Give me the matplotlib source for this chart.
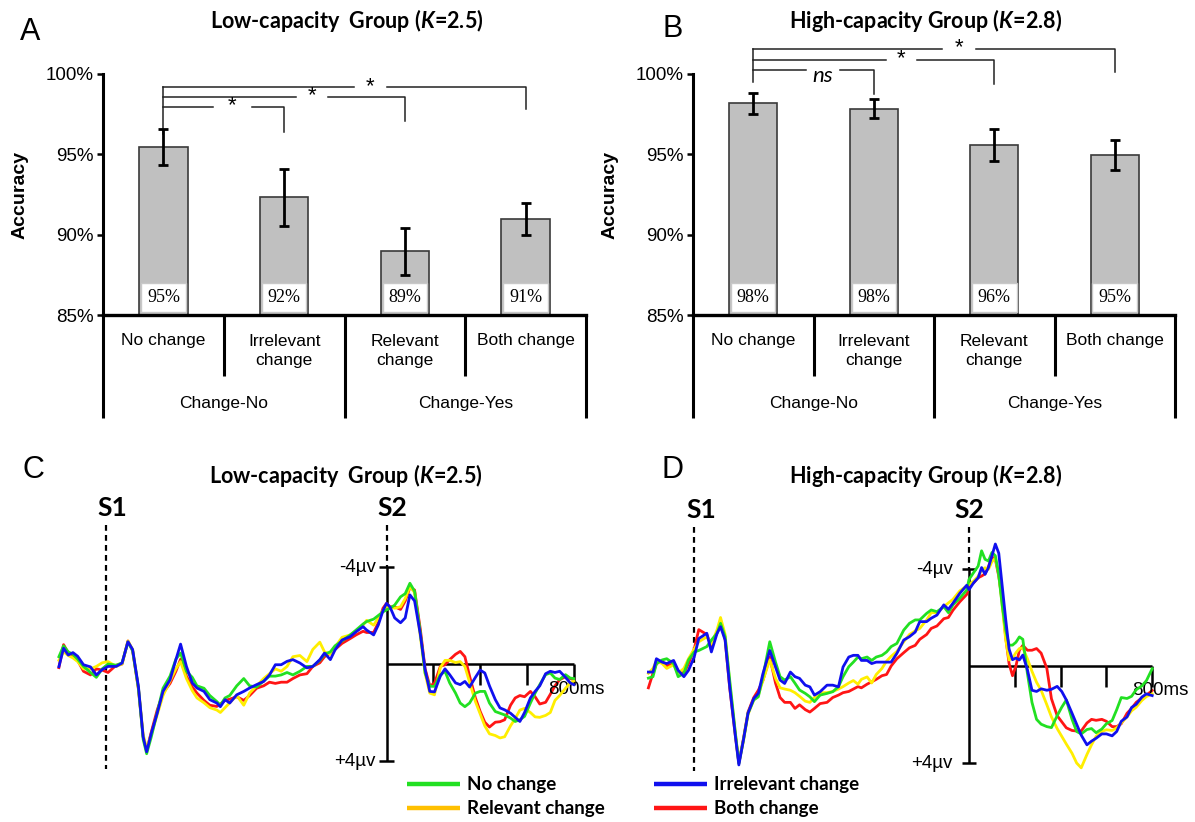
import numpy as np
import matplotlib.pyplot as plt

plt.rcParams['font.family'] = ['Liberation Sans', 'DejaVu Sans']
plt.rcParams['mathtext.fontset'] = 'custom'
plt.rcParams['mathtext.it'] = 'Lato:italic:bold'
plt.rcParams['mathtext.rm'] = 'Lato:bold'
plt.rcParams['mathtext.bf'] = 'Lato:bold'

# ---- accuracy data (panels A, B) ----
conditions = ['No change', 'Irrelevant\nchange', 'Relevant\nchange', 'Both change']
groups = ['Change-No', 'Change-Yes']
low_acc = [95.45, 92.33, 88.96, 90.98]
low_err = [1.13, 1.77, 1.48, 0.99]
low_labels = ['95%', '92%', '89%', '91%']
high_acc = [98.17, 97.85, 95.56, 94.96]
high_err = [0.65, 0.60, 1.00, 0.95]
high_labels = ['98%', '98%', '96%', '95%']
low_signif = ['*', '*', '*']
high_signif = ['ns', '*', '*']

# ---- ERP data (panels C, D), time in ms, amplitude in microvolts ----
low_time = [-1400, -1380, -1360, -1340, -1320, -1295, -1265, -1240, -1215, -1190,
            -1155, -1130, -1105, -1085, -1060, -1040, -1025, -1005, -980, -955,
            -925, -900, -880, -855, -830, -810, -780, -755, -725, -710,
            -690, -670, -640, -610, -585, -555, -525, -500, -475, -450,
            -425, -400, -370, -340, -315, -285, -265, -240, -220, -190,
            -155, -130, -100, -85, -55, -35, -15,
            0, 15, 35, 60, 80, 100, 120, 145, 165, 185,
            205, 230, 250, 270, 295, 315, 335, 355, 380, 400,
            420, 440, 465, 485, 505, 530, 550, 570, 590, 615,
            635, 655, 680, 700, 720, 740, 765, 785, 800]
low_irrelevant = [0.11, -0.65, -0.37, -0.47, -0.32, 0.03, 0.12, 0.45, 0.23, 0.1,
                  0.1, -0.04, -0.92, -0.6, 0.94, 3.0, 3.62, 2.85, 2.03, 1.13,
                  0.65, -0.18, -0.82, 0.1, 0.78, 0.99, 1.13, 1.47, 1.61, 1.76,
                  1.47, 1.61, 1.27, 1.13, 0.99, 0.85, 0.72, 0.45, 0.03, 0.03,
                  -0.11, -0.18, -0.04, 0.16, 0.1, -0.18, -0.45, -0.18, -0.58, -0.99,
                  -1.13, -1.33, -1.54, -1.4, -1.2, -1.61, -2.2,
                  -2.5, -2.35, -1.9, -1.7, -1.9, -2.85, -2.6, -1.2, 0.23, 1.13,
                  1.15, 0.5, 0.2, 0.44, 0.78, 0.85, 0.72, 0.95, 0.55, 0.25,
                  0.37, 0.9, 1.47, 1.81, 1.89, 2.03, 2.2, 2.37, 2.0, 1.4,
                  1.13, 0.9, 0.4, 0.3, 0.35, 0.3, 0.55, 0.78, 0.85]
low_nochange = [-0.3, -0.75, -0.5, -0.4, -0.2, 0.1, 0.35, 0.55, 0.2, 0.0,
                0.05, -0.05, -0.9, -0.55, 1.0, 3.1, 3.7, 3.0, 2.0, 1.0,
                0.5, -0.2, -0.45, 0.3, 0.55, 0.9, 1.0, 1.3, 1.55, 1.7,
                1.4, 1.3, 0.9, 0.6, 0.9, 0.95, 0.7, 0.5, 0.5, 0.45,
                0.35, 0.45, 0.3, 0.1, 0.1, -0.15, -0.4, -0.5, -0.75, -0.95,
                -1.2, -1.4, -1.65, -1.75, -1.85, -2.0, -2.15,
                -2.23, -2.3, -2.43, -2.77, -2.9, -3.33, -3.0, -1.26, 0.37, 0.92,
                0.92, 0.45, 0.3, 0.78, 1.2, 1.61, 1.76, 1.61, 1.2, 1.13,
                1.13, 1.61, 1.96, 2.03, 2.1, 2.23, 2.37, 2.3, 2.16, 1.61,
                1.2, 0.85, 0.44, 0.37, 0.58, 0.64, 0.44, 0.58, 0.6]
low_relevant = [-0.15, -0.5, -0.35, -0.25, -0.1, 0.2, 0.2, 0.1, -0.05, -0.1,
                0.1, 0.0, -0.95, -0.6, 1.0, 2.9, 3.5, 2.9, 2.1, 1.3,
                0.7, 0.2, -0.1, 0.6, 1.1, 1.4, 1.6, 1.8, 1.9, 2.0,
                1.8, 1.6, 1.3, 1.7, 1.2, 0.9, 0.6, 0.4, 0.2, 0.3,
                0.1, -0.3, -0.35, -0.1, -0.6, -0.9, -0.5, -0.4, -0.7, -1.1,
                -1.2, -1.35, -1.6, -1.8, -1.6, -1.9, -2.2,
                -2.36, -2.36, -2.3, -2.36, -2.7, -3.19, -2.95, -1.1, 0.4, 1.2,
                1.27, 0.15, -0.15, -0.15, -0.06, -0.1, 0.1, 0.75, 1.55, 2.05,
                2.55, 2.88, 2.95, 3.05, 3.0, 2.55, 2.25, 1.9, 1.83, 2.0,
                2.18, 2.2, 2.12, 2.0, 1.5, 1.3, 1.0, 0.78, 0.7]
low_both = [0.15, -0.8, -0.45, -0.35, -0.15, 0.3, 0.45, 0.2, 0.25, 0.35,
            0.05, 0.0, -0.95, -0.55, 1.05, 3.0, 3.55, 2.8, 1.9, 1.2,
            0.8, 0.3, -0.2, 0.5, 0.95, 1.2, 1.5, 1.7, 1.75, 1.65,
            1.5, 1.45, 1.35, 1.5, 1.3, 1.0, 0.9, 0.75, 0.8, 0.75,
            0.75, 0.6, 0.45, 0.4, 0.1, -0.05, -0.3, -0.45, -0.6, -0.85,
            -1.05, -1.2, -1.35, -1.3, -1.3, -1.7, -2.3,
            -2.5, -2.36, -2.36, -2.25, -2.6, -3.15, -3.05, -1.4, 0.2, 0.9,
            0.8, 0.1, 0.03, -0.18, -0.4, -0.52, -0.3, 0.5, 1.4, 1.95,
            2.4, 2.6, 2.4, 2.38, 2.3, 1.7, 1.4, 1.3, 1.35, 1.13,
            1.35, 1.65, 1.58, 1.25, 0.9, 0.65, 0.52, 0.6, 0.64]

high_time = [-1400, -1380, -1365, -1340, -1320, -1290, -1270, -1245, -1225, -1200,
             -1180, -1145, -1125, -1100, -1085, -1065, -1045, -1020, -1005, -985,
             -965, -940, -920, -900, -870, -845, -825, -805, -780, -760,
             -740, -715, -695, -675, -650, -620, -595, -570, -550, -525,
             -505, -485, -470, -445, -425, -405, -380, -360, -340, -315,
             -285, -260, -235, -215, -185, -165, -140, -110, -90, -70,
             -40, -10,
             0, 20, 40, 55, 70, 85, 100, 115, 130, 145,
             160, 175, 190, 205, 220, 235, 255, 275, 295, 315,
             340, 360, 385, 405, 425, 450, 470, 490, 515, 535,
             555, 580, 600, 625, 645, 665, 690, 710, 730, 755,
             775, 800]
high_irrelevant = [0.25, 0.25, -0.3, -0.16, -0.1, -0.23, 0.18, 0.44, 0.18, -0.37,
                   -1.13, -1.35, -0.58, -1.35, -1.62, -1.07, 0.86, 2.91, 4.08, 3.05,
                   1.95, 1.34, 1.13, 0.32, -0.64, 0.04, 0.58, 0.72, 0.25, 0.44,
                   0.51, 0.79, 0.86, 1.2, 1.06, 0.79, 0.79, 0.86, 0.04, -0.37,
                   -0.44, -0.44, -0.23, -0.23, -0.1, -0.16, -0.16, -0.16, -0.16, -0.52,
                   -1.07, -1.21, -1.4, -1.83, -1.83, -1.97, -2.1, -2.52, -2.34, -2.59,
                   -3.0, -3.33,
                   -3.15, -3.43, -3.64, -4.06, -3.78, -4.06, -4.54, -5.03, -4.65, -3.3,
                   -1.95, -0.7, -0.26, -0.33, -0.25, -0.45, 0.15, 1.0, 1.05, 0.94,
                   1.0, 0.96, 0.84, 1.05, 1.4, 1.95, 2.4, 2.85, 3.25, 3.1,
                   2.98, 2.8, 2.8, 2.88, 2.7, 2.28, 2.1, 1.71, 1.58, 1.28,
                   1.15, 1.22]
high_nochange = [0.5, 0.44, -0.1, -0.25, -0.3, -0.1, 0.44, 0.3, -0.25, -0.58,
                 -0.64, -0.8, -1.07, -1.35, -1.76, -1.21, 0.58, 2.78, 4.02, 3.05,
                 1.95, 1.4, 1.27, 0.44, -1.0, -0.16, 0.44, 0.58, 0.44, 0.71,
                 0.99, 1.13, 1.27, 1.47, 1.2, 1.13, 1.06, 0.85, 0.44, 0.03,
                 -0.16, -0.37, -0.3, -0.37, -0.23, -0.37, -0.44, -0.58, -0.8, -0.93,
                 -1.48, -1.76, -1.9, -1.9, -2.17, -2.31, -2.24, -2.45, -2.2, -2.52,
                 -2.8, -3.13,
                 -3.57, -3.85, -4.12, -4.75, -4.4, -4.33, -4.68, -4.55, -3.75, -2.5,
                 -1.5, -0.86, -0.86, -0.98, -1.2, -1.1, 0.3, 1.5, 2.2, 2.4,
                 2.5, 2.54, 2.05, 1.7, 1.4, 2.2, 2.7, 2.8, 2.62, 2.58,
                 2.75, 2.6, 2.38, 2.25, 1.8, 1.3, 1.34, 1.25, 0.98, 0.82,
                 0.6, 0.11]
high_relevant = [0.3, 0.1, -0.2, -0.1, 0.1, -0.05, 0.3, 0.1, -0.3, -0.7,
                 -1.0, -1.2, -0.9, -1.5, -2.0, -1.3, 0.7, 2.8, 4.0, 3.1,
                 2.0, 1.4, 1.2, 0.6, -0.25, 0.5, 0.9, 0.95, 1.0, 1.1,
                 1.25, 1.45, 1.5, 1.3, 1.1, 1.1, 1.05, 0.95, 0.85, 0.7,
                 0.6, 0.75, 0.55, 0.45, 0.7, 0.35, 0.1, -0.2, -0.4, -0.6,
                 -1.0, -1.3, -1.45, -1.55, -1.9, -2.2, -2.2, -2.45, -2.6, -2.75,
                 -3.1, -3.3,
                 -3.36, -3.5, -3.7, -3.95, -4.05, -3.99, -4.3, -4.45, -3.8, -2.5,
                 -1.1, -0.25, -0.32, -0.55, -0.72, -0.75, -0.3, 0.22, 0.67, 1.0,
                 1.6, 2.1, 2.58, 2.9, 3.22, 3.6, 4.0, 4.2, 3.65, 3.25,
                 2.9, 2.7, 2.63, 2.66, 2.55, 2.35, 2.1, 1.85, 1.7, 1.42,
                 1.26, 1.15]
high_both = [0.9, 0.3, -0.1, -0.2, 0.0, -0.1, 0.2, 0.3, -0.1, -0.7,
             -1.5, -1.3, -0.8, -1.4, -1.8, -1.1, 0.9, 2.9, 4.0, 3.0,
             1.9, 1.3, 1.0, 0.6, -0.37, 0.7, 1.3, 1.5, 1.5, 1.75,
             1.6, 1.8, 1.9, 1.75, 1.55, 1.5, 1.3, 1.2, 1.1, 1.05,
             0.95, 0.85, 0.9, 0.75, 0.65, 0.55, 0.4, 0.35, 0.0, -0.3,
             -0.55, -0.75, -0.85, -1.1, -1.3, -1.55, -1.65, -1.95, -2.0, -2.3,
             -2.65, -2.95,
             -3.29, -3.43, -3.64, -3.71, -3.8, -4.1, -4.5, -4.4, -3.7, -2.7,
             -1.2, -0.1, 0.4, 0.0, -0.65, -0.85, -0.65, -0.65, -0.72, -0.53,
             0.1, 1.35, 2.05, 2.3, 2.55, 2.66, 2.68, 2.68, 2.35, 2.2,
             2.24, 2.2, 2.28, 2.5, 2.5, 2.38, 1.95, 1.75, 1.5, 1.32,
             1.2, 1.01]

GREEN = '#22e022'
YELLOW = '#ffee00'
BLUE = '#1010ee'
RED = '#ff1515'
ORANGE = '#ffc000'

W, H = 1195, 822
fig = plt.figure(figsize=(W / 100, H / 100), dpi=100)


def px_axes(x0, y0, x1, y1):
    return fig.add_axes([x0 / W, 1 - y1 / H, (x1 - x0) / W, (y1 - y0) / H])


def bar_panel(ax, acc, err, labels, signif, brackets, left_top, left_bottom):
    x = np.arange(len(acc))
    ax.bar(x, [a - 85 for a in acc], bottom=85, width=0.4, color='#c0c0c0',
           edgecolor='#3a3a3a', linewidth=1.2, zorder=2)
    ax.errorbar(x, acc, yerr=err, fmt='none', ecolor='black', elinewidth=2,
                capsize=3.5, capthick=2, zorder=3)
    for xi, lab in zip(x, labels):
        ax.text(xi, 86.1, lab, ha='center', va='center', family='Liberation Serif',
                fontsize=13, zorder=4,
                bbox=dict(boxstyle='square,pad=0.32', fc='white', ec='#c8c8c8', lw=1))
    ax.set_xlim(-0.5, 3.5)
    ax.set_ylim(85, 100)
    ax.set_yticks([85, 90, 95, 100])
    ax.set_yticklabels(['85%', '90%', '95%', '100%'])
    ax.tick_params(axis='y', length=4, width=1.8, labelsize=13.5, pad=3)
    ax.set_xticks([])
    for s in ['top', 'right']:
        ax.spines[s].set_visible(False)
    ax.spines['left'].set_linewidth(2.2)
    ax.spines['bottom'].set_linewidth(2.4)
    ax.patch.set_alpha(0)

    # category box below the axis
    k = dict(color='black', lw=2.2, clip_on=False, solid_capstyle='butt')
    ax.plot([-0.5, -0.5], [85, 78.6], **k)
    ax.plot([3.5, 3.5], [85, 78.6], **k)
    ax.plot([1.5, 1.5], [85, 78.6], **k)
    ax.plot([0.5, 0.5], [85, 81.2], **k)
    ax.plot([2.5, 2.5], [85, 81.2], **k)
    for xi, c in zip(x, conditions):
        yy = 82.75 if '\n' in c else 83.4
        ax.text(xi, yy, c, ha='center', va='center', fontsize=12.5,
                linespacing=1.3, clip_on=False)
    for gi, g in enumerate(groups):
        ax.text(0.5 + 2 * gi, 79.5, g, ha='center', va='center', fontsize=12.5)

    # significance brackets
    b = dict(color='#222222', lw=1.1, clip_on=False)
    ax.plot([0, 0], [left_top, left_bottom], **b)
    for (i1, yl, ye, xt, hg, dy), lab in zip(brackets, signif):
        ax.plot([0, xt - hg], [yl, yl], **b)
        ax.plot([xt + hg, i1, i1], [yl, yl, ye], **b)
        if lab == 'ns':
            ax.text(xt, yl + dy, lab, ha='center', va='center', fontsize=16,
                    family='Lato', style='italic', clip_on=False)
        else:
            ax.text(xt, yl + dy, lab, ha='center', va='center', fontsize=16,
                    clip_on=False)


axA = px_axes(103, 74, 586, 315)
bar_panel(axA, low_acc, low_err, low_labels, low_signif,
          [(1, 97.95, 96.4, 0.57, 0.16, 0.05),
           (2, 98.57, 97.06, 1.23, 0.13, 0.05),
           (3, 99.19, 97.8, 1.715, 0.135, 0.05)], 99.19, 96.25)
axB = px_axes(693, 74, 1175, 315)
bar_panel(axB, high_acc, high_err, high_labels, high_signif,
          [(1, 100.25, 98.75, 0.58, 0.14, -0.4),
           (2, 100.875, 99.4, 1.23, 0.13, 0.05),
           (3, 101.56, 100.1, 1.71, 0.14, 0.05)], 101.56, 99.5)


def erp_panel(ax, t, no, irr, rel, both, s2_dx, uv_x, ms_xy):
    lw = 2.0
    ax.plot(t, both, color=RED, lw=lw, zorder=3)
    ax.plot(t, rel, color=YELLOW, lw=lw, zorder=4)
    ax.plot(t, no, color=GREEN, lw=lw, zorder=5)
    ax.plot(t, irr, color=BLUE, lw=lw, zorder=6)
    k = dict(color='black', lw=1.8, solid_capstyle='butt', zorder=2)
    ax.plot([0, 0], [-4, 4], **k)
    ax.plot([0, 800], [0, 0], **k)
    for tk in [200, 400, 600, 800]:
        ax.plot([tk, tk], [0, 0.85], **k)
    for v in [-4, 4]:
        ax.plot([-32, 32], [v, v], **k)
    dash = dict(color='black', lw=1.6, linestyle=(0, (2.6, 1.9)), zorder=2)
    ax.plot([-1200, -1200], [-5.75, 4.35], **dash)
    ax.plot([0, 0], [-5.75, -4], **dash)
    ax.text(-1170, -6.45, 'S1', ha='center', va='center', fontsize=19,
            family='Lato', fontweight='bold')
    ax.text(s2_dx, -6.45, 'S2', ha='center', va='center', fontsize=19,
            family='Lato', fontweight='bold')
    ax.text(uv_x, -4, '-4µv', ha='right', va='center', fontsize=13.5)
    ax.text(uv_x, 4, '+4µv', ha='right', va='center', fontsize=13.5)
    ax.text(ms_xy[0], ms_xy[1], '800ms', ha='left', va='center', fontsize=13.5)
    ax.set_xlim(-1500, 900)
    ax.set_ylim(5.0, -6.8)
    ax.axis('off')


axC = px_axes(35.5, 499.1, 597.1, 785.25)
erp_panel(axC, low_time, low_nochange, low_irrelevant, low_relevant, low_both,
          23, -45, (690, 1.07))
axD = px_axes(625.5, 501.1, 1175.1, 787.25)
erp_panel(axD, high_time, high_nochange, high_irrelevant, high_relevant, high_both,
          0, -72, (712, 0.99))

# overlay for panel letters, titles and legend
ov = fig.add_axes([0, 0, 1, 1])
ov.set_xlim(0, W)
ov.set_ylim(H, 0)
ov.axis('off')

for lx, ly, letter in [(30, 32, 'A'), (673, 29, 'B'), (33, 470, 'C'), (673, 470, 'D')]:
    ov.text(lx, ly, letter, ha='center', va='center', fontsize=22,
            family='Liberation Sans')

title_low = r'Low-capacity  Group ($K$=2.5)'
title_high = r'High-capacity Group ($K$=2.8)'
for tx, ty, s in [(347, 21, title_low), (926, 21, title_high),
                  (346, 475, title_low), (926, 475, title_high)]:
    ov.text(tx, ty, s, ha='center', va='center', fontsize=15.5, family='Lato',
            fontweight='bold')

for ax_x in [20, 610]:
    ov.text(ax_x, 195, 'Accuracy', rotation=90, ha='center', va='center',
            fontsize=14, fontweight='bold')

legend_items = [(407, 784, GREEN, 'No change'), (407, 808, ORANGE, 'Relevant change'),
                (654, 784, BLUE, 'Irrelevant change'), (654, 808, RED, 'Both change')]
for lx, ly, c, lab in legend_items:
    ov.plot([lx, lx + 53], [ly, ly], color=c, lw=3.2, solid_capstyle='butt')
    ov.text(lx + 60, ly, lab, ha='left', va='center', fontsize=13.5, family='Lato',
            fontweight='bold')

fig.savefig('out.png', dpi=100)
